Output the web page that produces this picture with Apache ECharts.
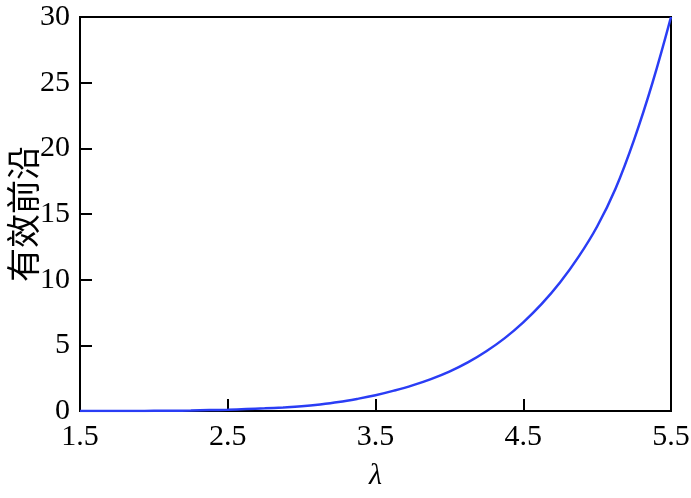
<!DOCTYPE html>
<html>
<head>
<meta charset="utf-8">
<script src="https://cdn.jsdelivr.net/npm/echarts@6/dist/echarts.min.js"></script>
<style>
html,body{margin:0;padding:0;background:#fff;}
#chart{width:691px;height:498px;}
</style>
</head>
<body>
<div id="chart"></div>
<script>
// λ values
const lambdaValues = [1.5, 1.625, 1.75, 1.875, 2.0, 2.125, 2.25, 2.375, 2.5, 2.625, 2.75, 2.875,
  3.0, 3.125, 3.25, 3.375, 3.5, 3.625, 3.75, 3.875, 4.0, 4.125, 4.25, 4.375,
  4.5, 4.625, 4.75, 4.875, 5.0, 5.125, 5.25, 5.375, 5.5];
// effective frontier values
const frontierValues = [0.0, 0.0, 0.0, 0.005, 0.01, 0.02, 0.04, 0.07, 0.1, 0.15, 0.2, 0.27,
  0.36, 0.5, 0.68, 0.92, 1.2, 1.55, 1.95, 2.43, 3.0, 3.7, 4.55, 5.55,
  6.75, 8.15, 9.8, 11.75, 14.05, 16.95, 20.65, 25.0, 30.0];
const xTicks = {min: 1.5, max: 5.5, step: 1};
const yTicks = {min: 0, max: 30, step: 5};
const xName = 'λ';
const yName = '有效前沿';

const serif = '"Liberation Serif", "DejaVu Serif", serif';
const chart = echarts.init(document.getElementById('chart'), null, {renderer: 'canvas'});
chart.setOption({
  animation: false,
  backgroundColor: '#ffffff',
  grid: {left: 80, right: 20, top: 17, bottom: 87, containLabel: false, outerBoundsMode: 'none',
         show: true, borderColor: '#000', borderWidth: 2, backgroundColor: 'transparent'},
  xAxis: {
    type: 'value', min: xTicks.min, max: xTicks.max, interval: xTicks.step,
    name: xName, nameLocation: 'middle', nameGap: 50, nameMoveOverlap: false,
    nameTextStyle: {fontFamily: serif, fontStyle: 'italic', fontSize: 30, color: '#000'},
    axisLine: {show: true, lineStyle: {color: '#000', width: 2}},
    axisTick: {show: true, inside: true, length: 12, lineStyle: {color: '#000', width: 2}},
    axisLabel: {fontFamily: serif, fontSize: 30, color: '#000', margin: 11, formatter: v => v.toFixed(1)},
    splitLine: {show: false}
  },
  yAxis: {
    type: 'value', min: yTicks.min, max: yTicks.max, interval: yTicks.step,
    name: yName, nameLocation: 'middle', nameGap: 40, nameRotate: 90, nameMoveOverlap: false,
    nameTextStyle: {fontFamily: '"Noto Sans CJK SC", sans-serif', fontSize: 34, color: '#000'},
    axisLine: {show: true, lineStyle: {color: '#000', width: 2}},
    axisTick: {show: true, inside: true, length: 12, lineStyle: {color: '#000', width: 2}},
    axisLabel: {fontFamily: serif, fontSize: 30, color: '#000', margin: 10},
    splitLine: {show: false}
  },
  series: [{
    type: 'line',
    data: lambdaValues.map((x, i) => [x, frontierValues[i]]),
    smooth: 0.4,
    showSymbol: false,
    symbol: 'none',
    clip: true,
    lineStyle: {color: '#2a3df5', width: 2.5},
    z: 3
  }]
});
</script>
</body>
</html>
